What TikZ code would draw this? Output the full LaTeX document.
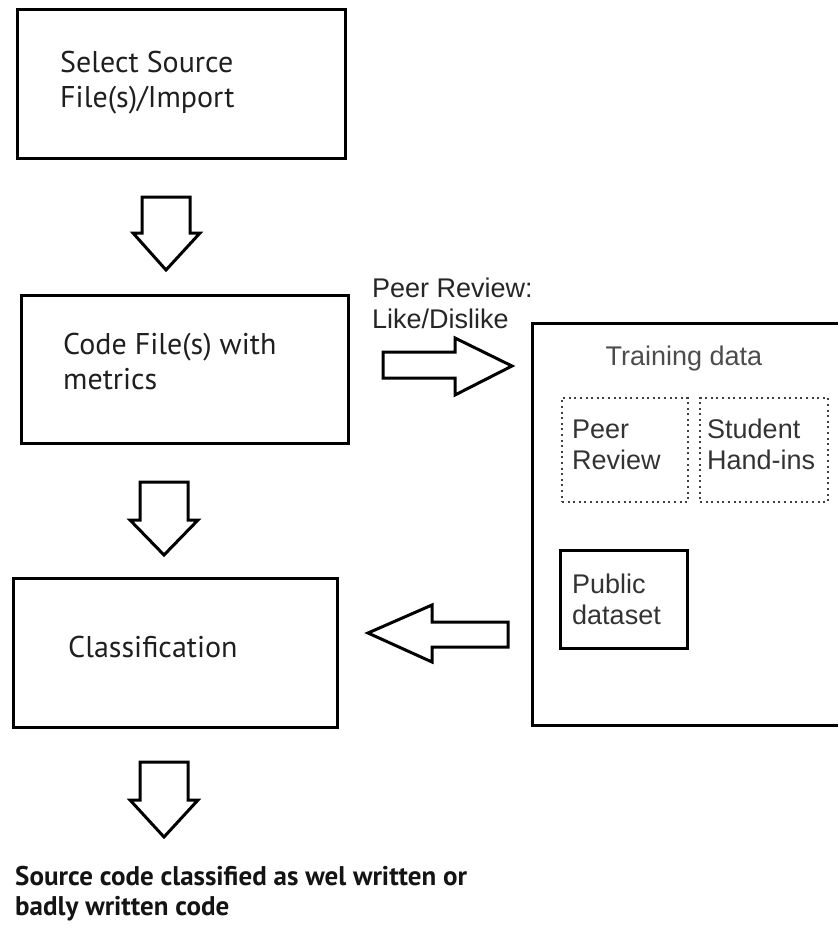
\documentclass[tikz,border=0pt]{standalone}
\usepackage{fontspec}
\setmainfont{PT Sans}
\newfontfamily\arialf{Liberation Sans}
\begin{document}
\begin{tikzpicture}[x=1pt,y=-1pt,
  stepbox/.style={draw=black, line width=3pt, inner sep=0pt},
  blockarrow/.style={draw=black, line width=3pt, line join=miter, fill=white},
  lefttext/.style={inner sep=0pt, align=left, text=black!88, font=\fontsize{30}{35}\selectfont},
  righttext/.style={inner sep=0pt, align=left, text=black!80, font=\arialf\fontsize{27}{31}\selectfont},
  dotbox/.style={draw=black!75, line width=2pt, dash pattern=on 2pt off 3.6pt, inner sep=0pt}]
\useasboundingbox (0,0) rectangle (838,934);

% left column boxes
\node[stepbox, minimum width=328pt, minimum height=148pt] (b1) at (181,84) {};
\node[stepbox, minimum width=327pt, minimum height=148pt] (b2) at (184.5,369) {};
\node[stepbox, minimum width=324pt, minimum height=149pt] (b3) at (175,652.5) {};

% multi-line nodes: base anchor = baseline of the last line
\node[lefttext, anchor=base west] (t1) at (60,107) {Select Source\\File(s)/Import};
\node[lefttext, anchor=base west] (t2) at (63,389) {Code File(s) with\\metrics};
\node[lefttext, anchor=base west] (t3) at (68,657) {Classification};

% training data container (cut at the right edge)
\coordinate (trTL) at (532,323);
\coordinate (trBL) at (532,725);
\draw[line width=3pt] (838,323) -- (trTL) -- (trBL) -- (838,725);
\node[righttext, anchor=base, text=black!70] (ttr) at (684,365) {Training data};

\node[dotbox, minimum width=126pt, minimum height=104pt] (dpeer) at (625,450) {};
\node[dotbox, minimum width=128pt, minimum height=104pt] (dstud) at (764,450) {};
\node[righttext, anchor=base west] (tpeer) at (572,469) {Peer\\Review};
\node[righttext, anchor=base west] (tstud) at (707,469) {Student\\Hand-ins};

\node[stepbox, minimum width=127pt, minimum height=98pt] (pub) at (623.5,599) {};
\node[righttext, anchor=base west] (tpub) at (572,624) {Public\\dataset};

% label of right arrow
\node[righttext, anchor=base west, text=black!85] (lpeer) at (372,328) {Peer Review:\\Like/Dislike};

% block arrows
\draw[blockarrow] (142,197) -- (190,197) -- (190,233) -- (200,233) -- (166,270) -- (133,233) -- (142,233) -- cycle;
\draw[blockarrow] (140,482) -- (188,482) -- (188,520) -- (198,520) -- (164,555) -- (130,520) -- (140,520) -- cycle;
\draw[blockarrow] (140,762) -- (188,762) -- (188,800) -- (198,800) -- (164,837) -- (130,800) -- (140,800) -- cycle;
\draw[blockarrow] (383,352) -- (455,352) -- (455,338) -- (512,366) -- (455,395) -- (455,378) -- (383,378) -- cycle;
\draw[blockarrow] (508,622) -- (432,622) -- (432,605) -- (368,633) -- (432,662) -- (432,647) -- (508,647) -- cycle;

% result text
\node[inner sep=0pt, align=left, anchor=base west, text=black!92, font=\bfseries\fontsize{27}{30}\selectfont] (res) at (15,915) {Source code classified as wel written or\\badly written code};
\end{tikzpicture}
\end{document}
